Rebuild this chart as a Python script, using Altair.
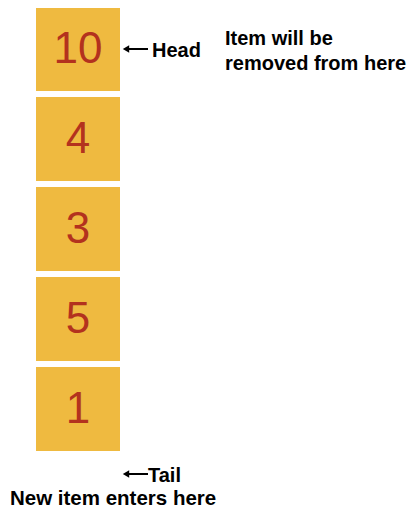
import altair as alt
import pandas as pd

# ---- data ----
values = [10, 4, 3, 5, 1]
slots = [0, 1, 2, 3, 4]
head_label = ["Head"]
tail_label = ["Tail"]
remove_note = ["Item will be", "removed from here"]
enter_note = ["New item enters here"]

W, H = 399, 500
PITCH = 90.0          # pixels per slot
TOP_CENTER = 41.0     # chart-y of first slot centre
half = 42.0 / PITCH   # half box height in slot units

df = pd.DataFrame({"slot": slots, "value": values})

yscale = alt.Scale(domain=[(0 - TOP_CENTER) / PITCH, (H - TOP_CENTER) / PITCH],
                   reverse=True, nice=False, zero=False)

base = alt.Chart(df)

boxes = base.transform_calculate(
    y0=f"datum.slot - {half}", y1=f"datum.slot + {half}"
).mark_rect(color="#EFBA40").encode(
    x=alt.value(28), x2=alt.value(112),
    y=alt.Y("y0:Q", scale=yscale, axis=None),
    y2="y1:Q",
)

nums = base.mark_text(
    font="Liberation Sans", fontSize=44, color="#B3321E",
    align="center", baseline="middle", dy=1
).encode(
    x=alt.value(70),
    y=alt.Y("slot:Q", scale=yscale, axis=None),
    text="value:N",
)

font = "Liberation Sans"

def arrow(ypix):
    line = alt.Chart(pd.DataFrame({"a": [0]})).mark_rule(color="black", strokeWidth=2).encode(
        x=alt.value(119), x2=alt.value(140), y=alt.value(ypix))
    head = alt.Chart(pd.DataFrame({"a": [0]})).mark_point(
        shape="triangle-left", filled=True, color="black", size=55, opacity=1
    ).encode(x=alt.value(118), y=alt.value(ypix))
    return line + head

head_txt = alt.Chart(pd.DataFrame({"t": head_label})).mark_text(
    font=font, fontWeight="bold", fontSize=20, align="left", baseline="alphabetic"
).encode(x=alt.value(144), y=alt.value(49), text="t:N")

tail_txt = alt.Chart(pd.DataFrame({"t": tail_label})).mark_text(
    font=font, fontWeight="bold", fontSize=20, align="left", baseline="alphabetic"
).encode(x=alt.value(140), y=alt.value(474), text="t:N")

remove_txt = alt.Chart(pd.DataFrame({"t": ["\n".join(remove_note)]})).mark_text(
    font=font, fontWeight="bold", fontSize=20, align="left", baseline="alphabetic",
    lineBreak="\n", lineHeight=25
).encode(x=alt.value(217), y=alt.value(37), text="t:N")

enter_txt = alt.Chart(pd.DataFrame({"t": enter_note})).mark_text(
    font=font, fontWeight="bold", fontSize=20.5, align="left", baseline="alphabetic"
).encode(x=alt.value(2), y=alt.value(497), text="t:N")

chart = alt.layer(
    boxes, nums, arrow(41), arrow(466), head_txt, tail_txt, remove_txt, enter_txt
).properties(
    width=W, height=H, padding=0, autosize=alt.AutoSizeParams(type="none")
).configure_view(stroke=None)

chart.save("out.html", embed_options={"renderer": "svg", "actions": False})
